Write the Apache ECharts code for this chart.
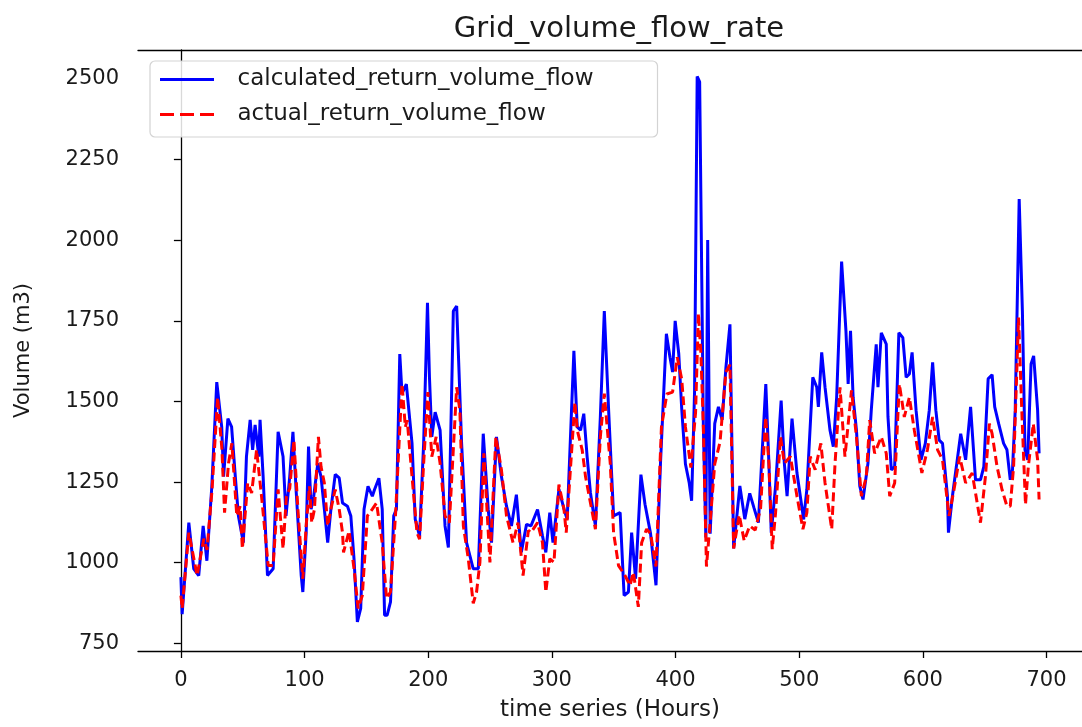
<!DOCTYPE html>
<html>
<head>
<meta charset="utf-8">
<script src="https://cdn.jsdelivr.net/npm/echarts@6/dist/echarts.min.js"></script>
<style>
html,body{margin:0;padding:0;background:#fff;}
#chart{width:1082px;height:727px;}
</style>
</head>
<body>
<div id="chart"></div>
<script>
// ---- data ----
const titleText = 'Grid_volume_flow_rate';
const seriesNames = ['calculated_return_volume_flow', 'actual_return_volume_flow'];
const xTicks = [0, 100, 200, 300, 400, 500, 600, 700];
const yTicks = [750, 1000, 1250, 1500, 1750, 2000, 2250, 2500];

const calcHours = [0,1,6.4,10.4,14.4,18,21,25,29,33,34.5,38,41,44,46.5,50.5,53,56,58,60,63,64,66.5,70,74.6,78.6,82.6,85,88,90.6,93.3,97.3,98.6,101.3,103.2,105.3,107.4,110.7,113.3,116,118.7,121.3,124.8,128,130.7,134.7,137.4,140,142.7,145.4,148.1,151.3,154.8,156.6,160.1,162.8,164.7,166.8,169.5,172.1,174.3,177,178.8,182.3,186.9,189.5,193,196.3,199.4,201,202.9,205.6,209.6,213.6,216.3,220.3,223,227,231,236.4,240.5,244.5,248.5,251.2,255.2,259.2,263.3,267.3,271.3,275.3,279.5,283.1,288.4,292.4,295.1,298.3,300.9,305.7,309.8,312.4,317.8,320.5,323.2,325.8,328.5,331.2,335.2,339.2,342.4,345.9,349.9,355.2,358.4,361.9,364.5,367.7,372,375.3,379.8,384.2,387.8,392.6,395.5,397.6,399.7,402.6,405,408,411,413,415.4,417.5,419.5,422.5,424.5,426,428,431.7,434.7,437.7,440.7,444,447,452,456,460,463.5,467,473,475.5,477.4,480.9,485.4,488,490.2,494.2,498.2,503.6,506.2,511,514.2,515.5,518.2,520.9,524.9,527.6,530.3,534.3,537.8,539.6,541.5,543.6,546.3,549,551.6,555.6,558.3,562.3,563.7,566.4,570.4,571.8,574.5,577.2,580.6,583.8,586.5,589.1,591.3,594.5,598.5,602,605.2,607.9,610.5,613.2,615.9,619.9,620.7,623.9,627.1,630.6,634.6,638.6,642.6,646.6,649.3,652.8,656,658.1,661.3,665.3,668,670.7,672.5,674.7,677.9,680.5,682.6,684.8,687.5,689.6,692.8,694];
const calcValues = [955,840,1124,981,960,1114,1006,1237,1560,1421,1267,1447,1421,1267,1145,1062,1329,1443,1350,1427,1329,1443,1267,960,981,1406,1329,1145,1267,1406,1216,960,909,1093,1360,1166,1206,1308,1267,1166,1062,1166,1274,1263,1185,1175,1145,1012,816,858,1166,1237,1206,1227,1262,1166,837,837,878,1145,1166,1647,1524,1554,1370,1134,1083,1370,1806,1575,1390,1467,1411,1114,1047,1780,1796,1370,1062,981,981,1400,1166,1062,1390,1267,1175,1114,1211,1032,1119,1114,1165,1083,1032,1155,1062,1227,1166,1134,1657,1421,1411,1462,1329,1216,1114,1452,1780,1472,1145,1155,898,909,1093,950,1273,1181,1090,930,1306,1710,1637,1591,1750,1648,1477,1306,1249,1192,1534,2508,2491,1421,1078,2001,1090,1431,1483,1443,1603,1739,1044,1238,1135,1215,1169,1124,1554,1308,1093,1237,1503,1308,1206,1447,1278,1134,1227,1575,1544,1483,1652,1544,1411,1360,1513,1934,1719,1554,1719,1513,1411,1237,1196,1308,1473,1677,1544,1713,1678,1452,1288,1298,1713,1698,1575,1585,1652,1473,1319,1370,1473,1621,1473,1380,1370,1206,1093,1206,1298,1400,1319,1483,1257,1257,1298,1570,1583,1483,1431,1370,1350,1257,1288,1473,2128,1780,1350,1319,1616,1641,1473,1339];

const actualHours = [0,1,6.4,13.1,18.5,21.1,25.2,29.7,33.2,35.3,38.5,41.2,45.2,47.9,49.7,54,57.2,61.2,65.2,70.6,74.6,78.6,82.6,85.3,88,91.4,94.6,98.6,101.3,104,105.8,108,111.2,113.3,116,118.7,121.3,124.8,128,130.7,131.5,136,140,143.3,146.7,150.8,154.8,158.2,162.8,166.3,169.5,173.5,178.8,181.5,183,186.9,190.9,193,196.3,199.7,202.9,206.4,209.6,213.6,217.1,223,225.6,228.4,232.4,236.4,239.1,241.8,245,249.9,254.7,259.2,263.3,268.6,272.6,276.7,281,283.1,288.4,292.4,295.1,298.3,301.7,305.7,309.8,311.6,318.6,320.5,324.5,327.2,331.2,335.2,339.2,342.4,347.2,349.9,353.9,359.2,363.2,365.9,369.9,372.6,376.6,379.8,384.2,388.6,393,397.6,401.4,405,408,412.4,416.2,418.5,420.5,422.5,425,428.2,431.7,436,440.7,444,447,451.5,455.5,460,464.4,468.8,472.9,475.5,478.2,480.9,484.9,488,492.9,498.2,503,506.2,508.9,512.9,517.5,520.9,526.3,529,533,537,542.3,546.3,550.3,554.3,557,561,566.4,570.4,573.2,577.2,581,585,589.1,593.1,599.2,603.7,607.9,611.9,615.9,621.2,625.2,629.8,634.6,639.9,646.6,650.6,653.8,656,660,664,668,670.7,673.4,677.4,680,683,685.3,689.3,692.8,694];
const actualValues = [898,858,1093,960,1074,1040,1227,1513,1350,1155,1308,1370,1145,1175,1043,1247,1216,1350,1206,991,991,1227,1043,1206,1230,1380,1166,950,1114,1237,1124,1166,1390,1298,1247,1114,1166,1227,1166,1093,1032,1098,981,858,898,1145,1166,1185,1062,889,909,1145,1554,1421,1442,1267,1093,1073,1308,1529,1329,1390,1308,1145,1124,1544,1472,1114,1012,874,909,1001,1339,1001,1390,1288,1145,1062,1124,960,1100,1093,1124,1062,909,1012,1001,1242,1166,1093,1498,1411,1350,1267,1185,1104,1390,1524,1308,1093,991,960,929,970,863,1062,1104,1090,988,1421,1523,1529,1637,1569,1421,1295,1466,1773,1649,1421,988,1135,1306,1375,1591,1614,1044,1148,1068,1114,1101,1169,1452,1308,1042,1155,1390,1308,1329,1206,1104,1155,1329,1288,1370,1247,1104,1308,1544,1329,1534,1390,1206,1267,1442,1339,1390,1339,1206,1247,1554,1452,1513,1411,1278,1350,1452,1350,1319,1145,1227,1329,1247,1278,1124,1267,1431,1400,1298,1227,1175,1175,1298,1760,1473,1180,1298,1431,1319,1196];

// ---- build the chart ----
const calcData = calcHours.map((h, i) => [h, calcValues[i]]);
const actualData = actualHours.map((h, i) => [h, actualValues[i]]);

const FONT = 'DejaVu Sans';
const TXT = '#1a1a1a';
const solidIcon = 'path://M0,0h54v3h-54z';
const dashIcon = 'path://M0,0h14v3h-14z M20,0h14v3h-14z M40,0h14v3h-14z';

const chart = echarts.init(document.getElementById('chart'), null, {renderer: 'canvas'});
chart.setOption({
  animation: false,
  backgroundColor: '#ffffff',
  textStyle: {fontFamily: FONT, color: TXT},
  title: {
    text: titleText,
    left: 614, top: 10, textAlign: 'center',
    textStyle: {fontFamily: FONT, fontSize: 29, fontWeight: 'normal', color: TXT}
  },
  legend: {
    orient: 'vertical',
    left: 150, top: 61,
    padding: [6, 10, 10, 10],
    itemWidth: 55, itemHeight: 3, itemGap: 10,
    borderColor: '#d3d3d3', borderWidth: 1.2, borderRadius: 5,
    backgroundColor: 'rgba(255,255,255,0.85)',
    textStyle: {fontFamily: FONT, fontSize: 23, color: TXT, lineHeight: 25, padding: [0, 0, 0, 18], width: 410},
    data: [
      {name: seriesNames[0], icon: solidIcon, itemStyle: {color: '#0000ff'}},
      {name: seriesNames[1], icon: dashIcon, itemStyle: {color: '#ff0000'}}
    ]
  },
  grid: {left: 138, top: 50, width: 953, height: 606, containLabel: false},
  xAxis: [{
    type: 'value', min: -34.7, max: 728.7,
    name: 'time series (Hours)', nameLocation: 'middle', nameGap: 48,
    nameTextStyle: {fontFamily: FONT, fontSize: 23, color: TXT},
    axisLine: {show: true, lineStyle: {color: '#000', width: 1.3}},
    axisTick: {show: true, length: 7, lineStyle: {color: '#000', width: 1.3}, customValues: xTicks},
    axisLabel: {fontFamily: FONT, fontSize: 21, color: TXT, margin: 19, customValues: xTicks,
      formatter: v => String(v)},
    splitLine: {show: false}
  }, {
    type: 'value', position: 'top', min: -34.7, max: 728.7,
    axisLine: {show: true, lineStyle: {color: '#000', width: 1.3}},
    axisTick: {show: false}, axisLabel: {show: false}, splitLine: {show: false}
  }],
  yAxis: {
    type: 'value', min: 726, max: 2590,
    name: 'Volume (m3)', nameLocation: 'middle', nameGap: 104, nameRotate: 90,
    nameTextStyle: {fontFamily: FONT, fontSize: 21, color: TXT},
    axisLine: {show: true, lineStyle: {color: '#000', width: 1.3}},
    axisTick: {show: true, length: 7, lineStyle: {color: '#000', width: 1.3}, customValues: yTicks},
    axisLabel: {fontFamily: FONT, fontSize: 21, color: TXT, margin: 19, customValues: yTicks,
      formatter: v => String(v)},
    splitLine: {show: false}
  },
  series: [{
    name: seriesNames[0], type: 'line', data: calcData,
    showSymbol: false, symbol: 'none', smooth: false,
    lineStyle: {color: '#0000ff', width: 3},
    itemStyle: {color: '#0000ff'}
  }, {
    name: seriesNames[1], type: 'line', data: actualData,
    showSymbol: false, symbol: 'none', smooth: false,
    lineStyle: {color: '#ff0000', width: 3, type: [9, 4.5]},
    itemStyle: {color: '#ff0000'}
  }]
});
</script>
</body>
</html>
